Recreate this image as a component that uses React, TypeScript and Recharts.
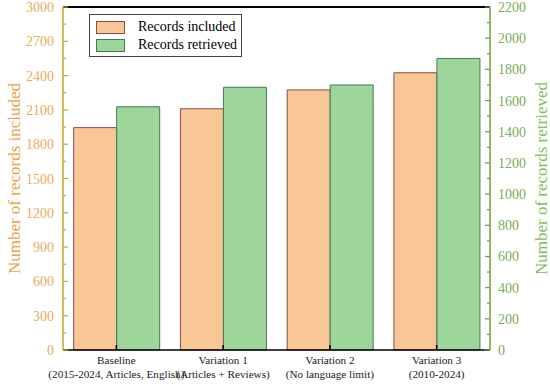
import {
  BarChart,
  Bar,
  XAxis,
  YAxis,
  Legend,
  ReferenceLine,
} from 'recharts';

const categories = ['Baseline', 'Variation 1', 'Variation 2', 'Variation 3'];
const subLabels = [
  '(2015-2024, Articles, English)',
  '(Articles + Reviews)',
  '(No language limit)',
  '(2010-2024)',
];
const recordsIncluded = [1945, 2110, 2275, 2425];
const recordsRetrieved = [1560, 1685, 1700, 1870];

const leftTicks = [0, 300, 600, 900, 1200, 1500, 1800, 2100, 2400, 2700, 3000];
const rightTicks = [0, 200, 400, 600, 800, 1000, 1200, 1400, 1600, 1800, 2000, 2200];

// major ticks plus a minor tick halfway between each pair
const withMinor = (major: number[]) =>
  major.flatMap((v, i) => (i === 0 ? [v] : [(major[i - 1] + v) / 2, v]));

const data = categories.map((name, i) => ({
  name,
  sub: subLabels[i],
  included: recordsIncluded[i],
  retrieved: recordsRetrieved[i],
}));

const FONT = '"Liberation Serif", "Times New Roman", serif';
const INC_FILL = '#f9c795';
const INC_STROKE = '#8e4b4b';
const RET_FILL = '#9ed59b';
const RET_STROKE = '#45795a';
const LEFT_AXIS = '#c8a428';
const LEFT_TEXT = '#e9ad5c';
const RIGHT_AXIS = '#6b9e3a';
const RIGHT_TEXT = '#7dac55';
const LEFT_MARGIN = 9;
const RIGHT_MARGIN = 8;

function LeftTick(props: any) {
  const { x, y, payload } = props;
  const v = payload.value;
  const major = leftTicks.includes(v);
  const ax = x + LEFT_MARGIN;
  return (
    <g>
      <line x1={ax} x2={ax + (major ? 5 : 3)} y1={y} y2={y} stroke={LEFT_AXIS} strokeWidth={1.2} />
      {major && (
        <text x={x} y={y} dy={5} textAnchor="end" fontSize={14} fontFamily={FONT} fill={LEFT_TEXT}>
          {v}
        </text>
      )}
    </g>
  );
}

function RightTick(props: any) {
  const { x, y, payload } = props;
  const v = payload.value;
  const major = rightTicks.includes(v);
  const ax = x - RIGHT_MARGIN;
  return (
    <g>
      <line x1={ax} x2={ax - (major ? 5 : 3)} y1={y} y2={y} stroke={RIGHT_AXIS} strokeWidth={1.2} />
      {major && (
        <text x={x} y={y} dy={5} textAnchor="start" fontSize={14} fontFamily={FONT} fill={RIGHT_TEXT}>
          {v}
        </text>
      )}
    </g>
  );
}

function CategoryTick(props: any) {
  const { x, y, payload, index } = props;
  return (
    <g>
      <line x1={x} x2={x} y1={y} y2={y - 5} stroke="#000" strokeWidth={1.5} />
      <text textAnchor="middle" fontSize={11.2} fontFamily={FONT} fill="#1a1a1a">
        <tspan x={x} y={y + 14}>{payload.value}</tspan>
        <tspan x={x} y={y + 28}>{subLabels[index]}</tspan>
      </text>
    </g>
  );
}

function LegendBox() {
  const items = [
    { label: 'Records included', fill: INC_FILL, stroke: INC_STROKE },
    { label: 'Records retrieved', fill: RET_FILL, stroke: RET_STROKE },
  ];
  return (
    <div
      style={{
        border: '1px solid #444',
        background: '#fff',
        width: 151,
        height: 38,
        paddingTop: 3,
        boxSizing: 'content-box',
        fontFamily: FONT,
        fontSize: 14,
        color: '#000',
      }}
    >
      {items.map((it) => (
        <div key={it.label} style={{ display: 'flex', alignItems: 'center', height: 18 }}>
          <div
            style={{
              width: 29,
              height: 13,
              marginLeft: 6,
              marginRight: 13,
              background: it.fill,
              border: `1px solid ${it.stroke}`,
              boxSizing: 'border-box',
            }}
          />
          <span style={{ lineHeight: '18px' }}>{it.label}</span>
        </div>
      ))}
    </div>
  );
}

export default function App() {
  return (
    <div style={{ position: 'absolute', left: 0, top: 0, background: '#fff' }}>
      <BarChart
        width={550}
        height={384}
        data={data}
        margin={{ top: 7, right: 0, bottom: 0, left: 0 }}
        barCategoryGap="10%"
        barGap={0}
      >
        <XAxis
          dataKey="name"
          height={34}
          interval={0}
          tickLine={false}
          tickSize={0}
          tickMargin={0}
          tick={<CategoryTick />}
          axisLine={{ stroke: '#000', strokeWidth: 1.5 }}
        />
        <YAxis
          yAxisId="left"
          orientation="left"
          width={63}
          domain={[0, 3000]}
          ticks={withMinor(leftTicks)}
          interval={0}
          tickLine={false}
          tickSize={0}
          tickMargin={LEFT_MARGIN}
          tick={<LeftTick />}
          axisLine={{ stroke: LEFT_AXIS, strokeWidth: 1.5 }}
          label={{
            value: 'Number of records included',
            angle: -90,
            position: 'insideLeft',
            offset: 14,
            fill: '#e9a448',
            fontSize: 17,
            fontFamily: FONT,
            style: { textAnchor: 'middle' },
          }}
        />
        <YAxis
          yAxisId="right"
          orientation="right"
          width={60}
          domain={[0, 2200]}
          ticks={withMinor(rightTicks)}
          interval={0}
          tickLine={false}
          tickSize={0}
          tickMargin={RIGHT_MARGIN}
          tick={<RightTick />}
          axisLine={{ stroke: RIGHT_AXIS, strokeWidth: 1.5 }}
          label={{
            value: 'Number of records retrieved',
            angle: -90,
            position: 'insideRight',
            offset: 9,
            fill: '#86bd62',
            fontSize: 17,
            fontFamily: FONT,
            style: { textAnchor: 'middle' },
          }}
        />
        <ReferenceLine yAxisId="left" y={3000} stroke="#000" strokeWidth={2} />
        <Legend
          layout="vertical"
          align="center"
          verticalAlign="middle"
          content={<LegendBox />}
          wrapperStyle={{ left: 89, top: 14, width: 153 }}
        />
        <Bar
          yAxisId="left"
          dataKey="included"
          name="Records included"
          fill={INC_FILL}
          stroke={INC_STROKE}
          strokeWidth={1}
          isAnimationActive={false}
        />
        <Bar
          yAxisId="right"
          dataKey="retrieved"
          name="Records retrieved"
          fill={RET_FILL}
          stroke={RET_STROKE}
          strokeWidth={1}
          isAnimationActive={false}
        />
      </BarChart>
    </div>
  );
}
